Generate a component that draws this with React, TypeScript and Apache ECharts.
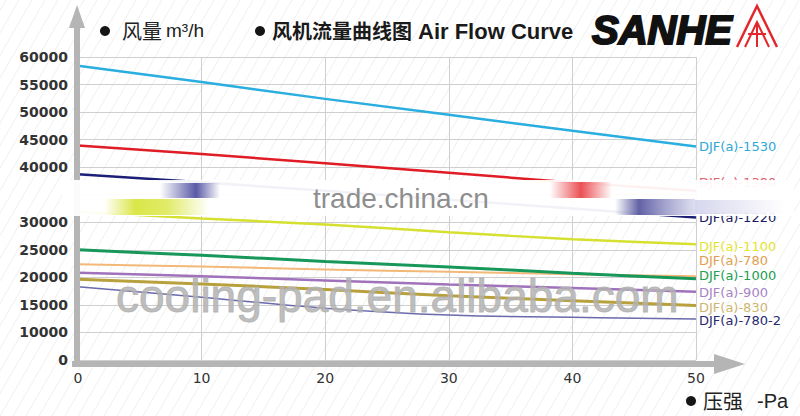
import React, { useEffect, useRef } from "react";
import * as echarts from "echarts";

// Pressure (Pa) on the x axis
const pressure = [0, 10, 20, 30, 40, 50];

// Air flow (m3/h) per fan model
const djf1530 = [58400, 55450, 52400, 49500, 46600, 43750];
const djf1380 = [43950, 42400, 40700, 39000, 37200, 35700];
const djf1220 = [38700, 37250, 35700, 34100, 32500, 30850];
const djf1100 = [31900, 30700, 29600, 28200, 26900, 26000];
const djf780 = [22400, 21950, 21450, 21000, 20550, 20200];
const djf1000 = [25000, 24000, 22900, 21900, 20750, 19750];
const djf900 = [20850, 20200, 19450, 18700, 18050, 17400];
const djf830 = [19650, 18800, 17800, 16650, 15750, 14900];
const djf7802 = [18300, 16400, 14400, 13150, 12750, 12450];

const names = [
  "DJF(a)-1530",
  "DJF(a)-1380",
  "DJF(a)-1220",
  "DJF(a)-1100",
  "DJF(a)-780",
  "DJF(a)-1000",
  "DJF(a)-900",
  "DJF(a)-830",
  "DJF(a)-780-2",
];
const values = [djf1530, djf1380, djf1220, djf1100, djf780, djf1000, djf900, djf830, djf7802];

const lineColors = ["#2aaee0", "#e01c24", "#1c1f78", "#d6e030", "#f2b878", "#17985a", "#a072bc", "#b8a03c", "#6a6aac"];
const labelColors = ["#30a8d8", "#e06070", "#1a1a60", "#e4e430", "#e0a050", "#20a050", "#a884c4", "#ccb870", "#262a70"];
const lineWidths = [2.5, 2.5, 2.5, 2.5, 2, 3, 2.5, 3, 1.5];
const smoothness = [0, 0, 0, 0.2, 0.2, 0.2, 0.2, 0.2, 0.45];
const labelDy = [0, -8, 0, 2, -16, -3, 1, 2, 2];

const yMin = 5000;
const yMax = 60000;
const yStep = 5000;

export default function App() {
  const ref = useRef<HTMLDivElement>(null);

  useEffect(() => {
    if (!ref.current) return;
    const chart = echarts.init(ref.current, undefined, { renderer: "svg" });

    const series = names.map((name, i) => ({
      name,
      type: "line",
      data: pressure.map((p, j) => [p, values[i][j]]),
      showSymbol: false,
      smooth: smoothness[i],
      lineStyle: { color: lineColors[i], width: lineWidths[i] },
      itemStyle: { color: lineColors[i] },
      z: 3,
      endLabel: {
        show: true,
        formatter: name,
        color: labelColors[i],
        fontSize: 13,
        fontFamily: "DejaVu Sans",
        distance: 3,
        offset: [0, labelDy[i]],
      },
    }));

    const grayAxis = "#b5b5b5";

    // faint diagonal background hatching
    const hatch: any[] = [];
    for (let x0 = -260; x0 < 800; x0 += 13) {
      hatch.push({
        type: "line",
        z: -10,
        silent: true,
        shape: { x1: x0, y1: 416, x2: x0 + 240, y2: 0 },
        style: { stroke: "#efefef", lineWidth: 1 },
      });
    }

    const graphic: any[] = [
      ...hatch,
      // y axis shaft + arrow
      { type: "rect", z: 40, shape: { x: 74, y: 24, width: 6, height: 343 }, style: { fill: grayAxis } },
      { type: "polygon", z: 40, shape: { points: [[69, 28], [77, 5], [85, 28]] }, style: { fill: grayAxis } },
      // x axis shaft + arrow
      { type: "rect", z: 40, shape: { x: 72, y: 361, width: 644, height: 6 }, style: { fill: grayAxis } },
      { type: "polygon", z: 40, shape: { points: [[714, 354], [745, 364], [714, 374]] }, style: { fill: grayAxis } },

      // watermark
      {
        type: "text",
        z: 45,
        x: 116,
        y: 296,
        style: {
          text: "cooling-pad.en.alibaba.com",
          fontSize: 46,
          fontFamily: "Liberation Sans",
          fill: "rgba(178,178,178,0.85)",
          stroke: "rgba(178,178,178,0.85)",
          lineWidth: 1,
          verticalAlign: "middle",
        },
      },

      // blurred band
      {
        type: "rect",
        z: 50,
        shape: { x: 62, y: 180, width: 732, height: 36 },
        style: { fill: "rgba(255,255,255,0.94)" },
      },
      {
        type: "rect",
        z: 51,
        shape: { x: 160, y: 183, width: 60, height: 15 },
        style: {
          fill: new echarts.graphic.LinearGradient(0, 0, 1, 0, [
            { offset: 0, color: "rgba(60,60,150,0)" },
            { offset: 0.6, color: "rgba(60,60,150,0.85)" },
            { offset: 1, color: "rgba(60,60,150,0)" },
          ]),
        },
      },
      {
        type: "rect",
        z: 51,
        shape: { x: 104, y: 199, width: 105, height: 16 },
        style: {
          fill: new echarts.graphic.LinearGradient(0, 0, 1, 0, [
            { offset: 0, color: "rgba(212,226,40,0)" },
            { offset: 0.3, color: "rgba(212,226,40,0.85)" },
            { offset: 0.6, color: "rgba(212,226,40,0.7)" },
            { offset: 1, color: "rgba(212,226,40,0)" },
          ]),
        },
      },
      {
        type: "rect",
        z: 51,
        shape: { x: 550, y: 182, width: 62, height: 16 },
        style: {
          fill: new echarts.graphic.LinearGradient(0, 0, 1, 0, [
            { offset: 0, color: "rgba(232,50,55,0)" },
            { offset: 0.5, color: "rgba(232,50,55,0.85)" },
            { offset: 1, color: "rgba(232,50,55,0)" },
          ]),
        },
      },
      {
        type: "rect",
        z: 51,
        shape: { x: 615, y: 199, width: 80, height: 16 },
        style: {
          fill: new echarts.graphic.LinearGradient(0, 0, 1, 0, [
            { offset: 0, color: "rgba(70,70,150,0)" },
            { offset: 0.3, color: "rgba(70,70,150,0.85)" },
            { offset: 1, color: "rgba(120,120,190,0.25)" },
          ]),
        },
      },
      {
        type: "rect",
        z: 51,
        shape: { x: 695, y: 200, width: 90, height: 14 },
        style: {
          fill: new echarts.graphic.LinearGradient(0, 0, 1, 0, [
            { offset: 0, color: "rgba(140,140,205,0.35)" },
            { offset: 1, color: "rgba(140,140,205,0)" },
          ]),
        },
      },
      {
        type: "text",
        z: 52,
        x: 313,
        y: 198,
        style: {
          text: "trade.china.cn",
          fontSize: 28,
          fontFamily: "Liberation Sans",
          fill: "#8e8e8e",
          verticalAlign: "middle",
        },
      },

      // title
      { type: "circle", z: 60, shape: { cx: 105, cy: 31, r: 5 }, style: { fill: "#151515" } },
      {
        type: "text",
        z: 60,
        x: 122,
        y: 30,
        style: { text: "风量", fontSize: 20, fontFamily: "Noto Sans CJK SC", fill: "#222", verticalAlign: "middle" },
      },
      {
        type: "text",
        z: 60,
        x: 166,
        y: 30,
        style: { text: "m³/h", fontSize: 19, fontFamily: "Liberation Sans", fill: "#222", verticalAlign: "middle" },
      },
      { type: "circle", z: 60, shape: { cx: 260, cy: 31, r: 5 }, style: { fill: "#151515" } },
      {
        type: "text",
        z: 60,
        x: 272,
        y: 30,
        style: {
          text: "风机流量曲线图",
          fontSize: 20,
          fontWeight: "bold",
          fontFamily: "Noto Sans CJK SC",
          fill: "#1a1a1a",
          verticalAlign: "middle",
        },
      },
      {
        type: "text",
        z: 60,
        x: 418,
        y: 31,
        style: {
          text: "Air Flow Curve",
          fontSize: 22,
          fontWeight: "bold",
          fontFamily: "Liberation Sans",
          fill: "#1a1a1a",
          verticalAlign: "middle",
        },
      },
      // logo
      {
        type: "text",
        z: 60,
        x: 592,
        y: 30,
        style: {
          text: "SANHE",
          fontSize: 40,
          fontWeight: "bold",
          fontStyle: "italic",
          fontFamily: "Liberation Sans",
          fill: "#111",
          stroke: "#111",
          lineWidth: 2,
          verticalAlign: "middle",
        },
      },
      {
        type: "polyline",
        z: 60,
        shape: { points: [[737, 47], [757, 6], [777, 47]] },
        style: { stroke: "#e3262b", lineWidth: 2.5, fill: "none" },
      },
      {
        type: "polyline",
        z: 60,
        shape: { points: [[745, 47], [757, 22], [769, 47]] },
        style: { stroke: "#e3262b", lineWidth: 2, fill: "none" },
      },
      {
        type: "polyline",
        z: 60,
        shape: { points: [[748, 34], [766, 34]] },
        style: { stroke: "#e3262b", lineWidth: 2, fill: "none" },
      },
      {
        type: "polyline",
        z: 60,
        shape: { points: [[757, 22], [757, 47]] },
        style: { stroke: "#e3262b", lineWidth: 2, fill: "none" },
      },

      // x axis title
      { type: "circle", z: 60, shape: { cx: 691, cy: 401, r: 5 }, style: { fill: "#151515" } },
      {
        type: "text",
        z: 60,
        x: 703,
        y: 400,
        style: { text: "压强", fontSize: 20, fontFamily: "Noto Sans CJK SC", fill: "#222", verticalAlign: "middle" },
      },
      {
        type: "text",
        z: 60,
        x: 757,
        y: 401,
        style: { text: "-Pa", fontSize: 20, fontFamily: "Liberation Sans", fill: "#222", verticalAlign: "middle" },
      },
    ];

    chart.setOption({
      animation: false,
      backgroundColor: "transparent",
      grid: { left: 78, right: 104, top: 57, bottom: 56 },
      xAxis: {
        type: "value",
        min: 0,
        max: 50,
        interval: 10,
        axisLine: { show: false },
        axisTick: { show: false },
        splitLine: { show: true, lineStyle: { color: "#cfcfcf", width: 1 } },
        axisLabel: {
          margin: 11,
          fontSize: 14,
          fontFamily: "DejaVu Sans",
          color: "#333",
        },
      },
      yAxis: {
        type: "value",
        min: yMin,
        max: yMax,
        interval: yStep,
        axisLine: { show: false },
        axisTick: { show: false },
        splitLine: { show: true, lineStyle: { color: "#cfcfcf", width: 1 } },
        axisLabel: {
          margin: 10,
          fontSize: 14,
          fontWeight: "bold",
          fontFamily: "DejaVu Sans",
          color: "#333",
          formatter: (v: number) => (v === yMin ? "0" : v === 35000 ? "" : String(v)),
        },
      },
      series,
      graphic,
    });

    return () => chart.dispose();
  }, []);

  return (
    <div
      ref={ref}
      style={{ position: "fixed", left: 0, top: 0, width: 800, height: 416, background: "#fff" }}
    />
  );
}
